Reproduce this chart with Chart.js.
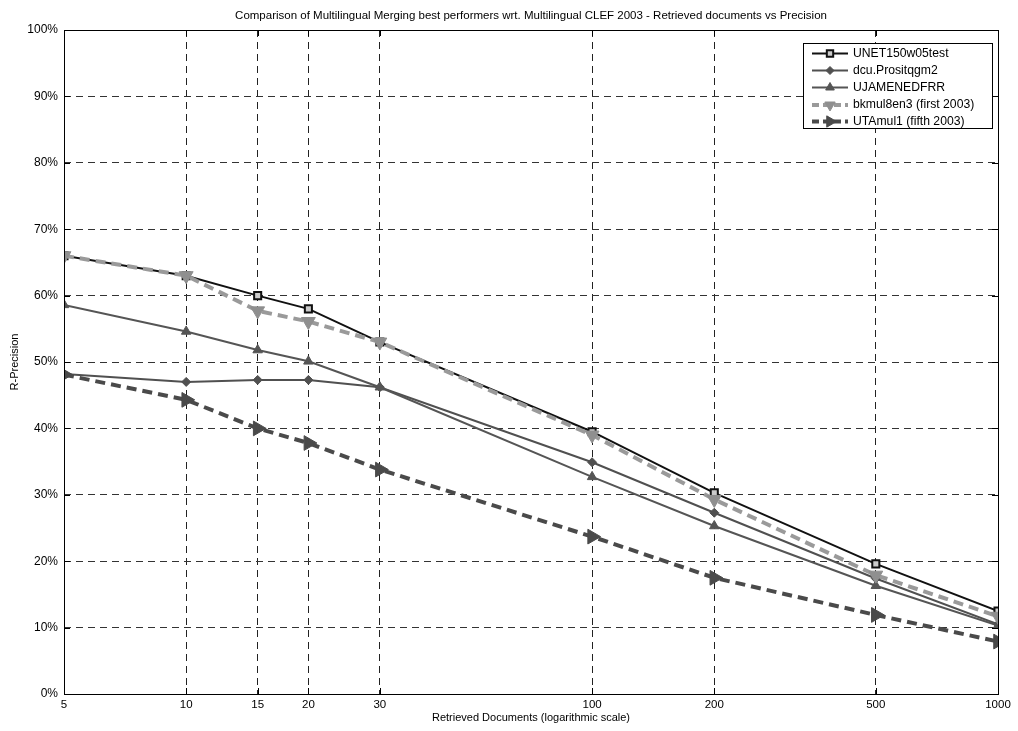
<!DOCTYPE html>
<html>
<head>
<meta charset="utf-8">
<script src="https://cdn.jsdelivr.net/npm/chart.js@4/dist/chart.umd.min.js"></script>
<style>
html,body{margin:0;padding:0;background:#fff;}
#wrap{width:1018px;height:731px;}
</style>
</head>
<body>
<div id="wrap"><canvas id="c" width="1018" height="731"></canvas></div>
<script>
const docs = [5, 10, 15, 20, 30, 100, 200, 500, 1000];
const xTicks = [5, 10, 15, 20, 30, 100, 200, 500, 1000];
const yTicks = [0, 10, 20, 30, 40, 50, 60, 70, 80, 90, 100];
const seriesNames = ['UNET150w05test', 'dcu.Prositqgm2', 'UJAMENEDFRR', 'bkmul8en3 (first 2003)', 'UTAmul1 (fifth 2003)'];
const unet = [66.0, 63.0, 60.0, 58.0, 53.0, 39.5, 30.3, 19.6, 12.5];
const dcu  = [48.2, 47.0, 47.3, 47.3, 46.2, 34.9, 27.3, 17.4, 10.5];
const uja  = [58.6, 54.6, 51.8, 50.1, 46.2, 32.7, 25.3, 16.3, 10.3];
const bkm  = [66.0, 63.0, 57.7, 56.1, 53.0, 39.0, 29.3, 17.9, 11.7];
const uta  = [48.1, 44.3, 40.0, 37.8, 33.8, 23.7, 17.5, 11.9, 7.9];
const titleText = 'Comparison of Multilingual Merging best performers wrt. Multilingual CLEF 2003 - Retrieved documents vs Precision';
const xTitle = 'Retrieved Documents (logarithmic scale)';
const yTitle = 'R-Precision';

const FONT = '"Liberation Sans", Arial, sans-serif';

function pts(arr){ return docs.map((d,i)=>({x:d,y:arr[i]})); }

const datasets = [
  {label:seriesNames[0], data:pts(unet), borderColor:'#111', borderWidth:2, pointStyle:'rect', pointRadius:5,
   pointBackgroundColor:'#ccc', pointBorderColor:'#111', pointBorderWidth:2, legendRadius:4.5, order:5},
  {label:seriesNames[1], data:pts(dcu), borderColor:'#505050', borderWidth:2, pointStyle:'rectRot', pointRadius:4.5,
   pointBackgroundColor:'#505050', pointBorderColor:'#505050', pointBorderWidth:1, legendRadius:4, order:4},
  {label:seriesNames[2], data:pts(uja), borderColor:'#555', borderWidth:2, pointStyle:'triangle', pointRadius:5.5,
   pointBackgroundColor:'#555', pointBorderColor:'#555', pointBorderWidth:1, legendRadius:5, order:3},
  {label:seriesNames[3], data:pts(bkm), borderColor:'#9a9a9a', borderWidth:4, borderDash:[10,6], pointStyle:'triangle', pointRotation:180, pointRadius:8,
   pointBackgroundColor:'#8f8f8f', pointBorderColor:'#8f8f8f', pointBorderWidth:1, legendRadius:6, order:2},
  {label:seriesNames[4], data:pts(uta), borderColor:'#4a4a4a', borderWidth:4, borderDash:[10,6], pointStyle:'triangle', pointRotation:90, pointRadius:8.5,
   pointBackgroundColor:'#4a4a4a', pointBorderColor:'#4a4a4a', pointBorderWidth:1, legendRadius:6.5, order:1}
];
datasets.forEach(d=>{ d.fill=false; d.tension=0; d.pointHoverRadius=d.pointRadius; });

const decor = {
  id:'decor',
  afterDraw(chart){
    const ctx = chart.ctx, a = chart.chartArea;
    const xs = chart.scales.x, ys = chart.scales.y;
    ctx.save();
    ctx.strokeStyle = '#000'; ctx.lineWidth = 1; ctx.setLineDash([]);
    ctx.strokeRect(Math.round(a.left)+0.5, Math.round(a.top)+0.5, Math.round(a.right-a.left), Math.round(a.bottom-a.top));
    ctx.beginPath();
    xTicks.forEach(v=>{
      const x = Math.round(xs.getPixelForValue(v))+0.5;
      ctx.moveTo(x, a.bottom); ctx.lineTo(x, a.bottom-6);
      ctx.moveTo(x, a.top); ctx.lineTo(x, a.top+6);
    });
    yTicks.forEach(v=>{
      const y = Math.round(ys.getPixelForValue(v))+0.5;
      ctx.moveTo(a.left, y); ctx.lineTo(a.left+6, y);
      ctx.moveTo(a.right, y); ctx.lineTo(a.right-6, y);
    });
    ctx.stroke();
    ctx.fillStyle = '#000';
    ctx.font = '11.5px ' + FONT;
    ctx.textAlign = 'center'; ctx.textBaseline = 'middle';
    ctx.fillText(titleText, (a.left+a.right)/2, 16);
    ctx.font = '11px ' + FONT;
    ctx.fillText(xTitle, (a.left+a.right)/2, 718);
    ctx.save();
    ctx.translate(15, (a.top+a.bottom)/2);
    ctx.rotate(-Math.PI/2);
    ctx.fillText(yTitle, 0, 0);
    ctx.restore();
    // legend
    const bx = 803, by = 43, bw = 189, bh = 85;
    ctx.fillStyle = '#fff';
    ctx.fillRect(bx, by, bw, bh);
    ctx.strokeStyle = '#000'; ctx.lineWidth = 1;
    ctx.strokeRect(bx+0.5, by+0.5, bw, bh);
    const rows = [53.5, 70.5, 87.5, 105, 121.5];
    datasets.forEach((d,i)=>{
      const y = rows[i];
      ctx.save();
      ctx.strokeStyle = d.borderColor; ctx.lineWidth = d.borderWidth;
      ctx.setLineDash(d.borderDash ? [7,4] : []);
      ctx.beginPath(); ctx.moveTo(812, y); ctx.lineTo(848, y); ctx.stroke();
      ctx.setLineDash([]);
      ctx.fillStyle = d.pointBackgroundColor; ctx.strokeStyle = d.pointBorderColor; ctx.lineWidth = d.pointBorderWidth;
      Chart.helpers.drawPoint(ctx, {pointStyle:d.pointStyle, rotation:d.pointRotation||0, radius:d.legendRadius, borderWidth:d.pointBorderWidth}, 830, y);
      ctx.restore();
      ctx.fillStyle = '#000';
      ctx.textAlign = 'left'; ctx.textBaseline = 'middle';
      ctx.font = '12.2px ' + FONT;
      ctx.fillText(d.label, 853, y);
    });
    ctx.restore();
  }
};

new Chart(document.getElementById('c'), {
  type:'line',
  data:{datasets},
  options:{
    responsive:false,
    animation:false,
    layout:{padding:{top:30, right:20, left:0, bottom:0}},
    plugins:{legend:{display:false}, title:{display:false}, tooltip:{enabled:false}},
    scales:{
      x:{
        type:'logarithmic', min:5, max:1000,
        afterBuildTicks(s){ s.ticks = xTicks.map(v=>({value:v})); },
        afterFit(s){ s.height = 37; },
        ticks:{ color:'#000', font:{family:FONT, size:11.5}, padding:4, maxRotation:0, autoSkip:false,
          callback:(v)=>String(v) },
        grid:{ color:'#222', lineWidth:1, drawTicks:false, tickLength:0 },
        border:{ display:false, dash:[7,5] }
      },
      y:{
        type:'linear', min:0, max:100,
        afterBuildTicks(s){ s.ticks = yTicks.map(v=>({value:v})); },
        afterFit(s){ s.width = 64; },
        ticks:{ color:'#000', font:{family:FONT, size:12}, padding:6, callback:(v)=>v+'%' },
        grid:{ color:'#333', lineWidth:1, drawTicks:false, tickLength:0 },
        border:{ display:false, dash:[7,5] }
      }
    }
  },
  plugins:[decor]
});
</script>
</body>
</html>
